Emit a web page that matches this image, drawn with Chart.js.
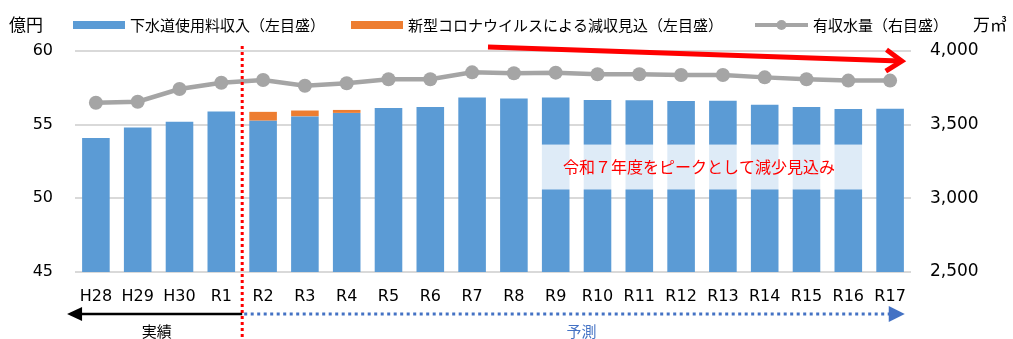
<!DOCTYPE html>
<html lang="ja">
<head>
<meta charset="utf-8">
<title>下水道使用料収入と有収水量の見通し</title>
<script src="https://cdn.jsdelivr.net/npm/chart.js@4/dist/chart.umd.min.js"></script>
<style>
  html, body { margin: 0; padding: 0; background: #fff; }
  #wrap { width: 1013px; height: 339px; position: relative; }
</style>
</head>
<body>
<div id="wrap"><canvas id="chart"></canvas></div>
<script>
// 年度
const years = ['H28', 'H29', 'H30', 'R1', 'R2', 'R3', 'R4', 'R5', 'R6', 'R7',
  'R8', 'R9', 'R10', 'R11', 'R12', 'R13', 'R14', 'R15', 'R16', 'R17'];

// 下水道使用料収入（億円）
const revenue = [54.1, 54.8, 55.2, 55.9, 55.27, 55.56, 55.8, 56.13, 56.2, 56.85,
  56.78, 56.85, 56.67, 56.65, 56.6, 56.62, 56.35, 56.2, 56.06, 56.08];

// 新型コロナウイルスによる減収見込（億円）
const covidLoss = [null, null, null, null, 0.6, 0.4, 0.2, null, null, null,
  null, null, null, null, null, null, null, null, null, null];

// 有収水量（万㎥）
const waterVolume = [3649, 3656, 3742, 3785, 3803, 3764, 3781, 3808, 3808, 3855,
  3849, 3853, 3842, 3842, 3837, 3837, 3821, 3808, 3799, 3799];

const leftTicks = [45, 50, 55, 60];
const rightTicks = [2500, 3000, 3500, 4000];

const JP = '"Noto Sans CJK JP", sans-serif';
const LATIN = '"DejaVu Sans", "Noto Sans CJK JP", sans-serif';

Chart.defaults.font.family = LATIN;
Chart.defaults.color = '#000';

const arrowHead = (ctx, x, y, ang, len, half) => {
  ctx.beginPath();
  ctx.moveTo(x, y);
  ctx.lineTo(x - len * Math.cos(ang) + half * Math.sin(ang), y - len * Math.sin(ang) - half * Math.cos(ang));
  ctx.lineTo(x - len * Math.cos(ang) - half * Math.sin(ang), y - len * Math.sin(ang) + half * Math.cos(ang));
  ctx.closePath();
  ctx.fill();
};

const extras = {
  id: 'extras',
  afterDatasetsDraw(chart) {
    const { ctx, chartArea, scales: { x, y } } = chart;
    const barW = chart.getDatasetMeta(1).data[0].width;

    // 注記の帯
    const bx0 = x.getPixelForValue(11) - barW / 2 - 1;
    const bx1 = x.getPixelForValue(18) + barW / 2 + 1;
    const by0 = y.getPixelForValue(53.65);
    const by1 = y.getPixelForValue(50.6);
    ctx.save();
    ctx.fillStyle = 'rgba(255,255,255,0.8)';
    ctx.fillRect(bx0, by0, bx1 - bx0, by1 - by0);
    ctx.fillStyle = '#ff0000';
    ctx.font = '16px ' + JP;
    ctx.textAlign = 'center';
    ctx.textBaseline = 'middle';
    ctx.fillText('令和７年度をピークとして減少見込み', (bx0 + bx1) / 2 - 3, (by0 + by1) / 2);

    // 減少傾向の矢印
    const ax0 = x.getPixelForValue(9.38), ay0 = y.getPixelForValue(60.27);
    const ax1 = x.getPixelForValue(19.28), ay1 = y.getPixelForValue(59.32);
    const ang = Math.atan2(ay1 - ay0, ax1 - ax0);
    ctx.strokeStyle = '#ff0000';
    ctx.lineWidth = 5;
    ctx.lineJoin = 'miter';
    ctx.beginPath();
    ctx.moveTo(ax0, ay0);
    ctx.lineTo(ax1 - 2, ay1);
    ctx.stroke();
    ctx.beginPath();
    ctx.moveTo(ax1 - 19 * Math.cos(ang - 0.6), ay1 - 19 * Math.sin(ang - 0.6));
    ctx.lineTo(ax1, ay1);
    ctx.lineTo(ax1 - 19 * Math.cos(ang + 0.6), ay1 - 19 * Math.sin(ang + 0.6));
    ctx.stroke();

    // 実績／予測の境界
    const sx = x.getPixelForValue(3.5);
    ctx.lineWidth = 3;
    ctx.lineCap = 'butt';
    ctx.setLineDash([3, 3]);
    ctx.beginPath();
    ctx.moveTo(sx, chartArea.top - 5);
    ctx.lineTo(sx, chart.height);
    ctx.stroke();

    // 実績・予測の矢印
    const ly = chartArea.bottom + 42;
    const leftTip = x.getPixelForValue(-0.69);
    const rightTip = x.getPixelForValue(19.35);
    ctx.setLineDash([]);
    ctx.strokeStyle = '#000';
    ctx.fillStyle = '#000';
    ctx.lineWidth = 2.5;
    ctx.beginPath();
    ctx.moveTo(sx, ly);
    ctx.lineTo(leftTip + 10, ly);
    ctx.stroke();
    arrowHead(ctx, leftTip, ly, Math.PI, 15, 7);

    ctx.strokeStyle = '#4472c4';
    ctx.fillStyle = '#4472c4';
    ctx.lineWidth = 3;
    ctx.setLineDash([3, 3.5]);
    ctx.beginPath();
    ctx.moveTo(sx + 2, ly);
    ctx.lineTo(rightTip - 15, ly);
    ctx.stroke();
    ctx.setLineDash([]);
    arrowHead(ctx, rightTip, ly, 0, 16, 8);

    ctx.font = '15px ' + JP;
    ctx.textAlign = 'center';
    ctx.textBaseline = 'middle';
    ctx.fillStyle = '#000';
    ctx.fillText('実績', (leftTip + sx) / 2 + 2, ly + 17);
    ctx.fillStyle = '#4472c4';
    ctx.fillText('予測', (sx + rightTip) / 2 + 8, ly + 17);
    ctx.restore();
  },
  afterDraw(chart) {
    const { ctx } = chart;
    const ds = chart.data.datasets;
    ctx.save();
    ctx.textBaseline = 'middle';
    ctx.textAlign = 'left';

    // 単位
    ctx.fillStyle = '#000';
    ctx.font = '17px ' + JP;
    ctx.fillText('億円', 9, 25);
    ctx.fillText('万㎥', 973, 25);

    // 凡例
    ctx.font = '15px ' + JP;
    const ly = 25;
    ctx.fillStyle = ds[1].backgroundColor;
    ctx.fillRect(73, ly - 4, 52, 8);
    ctx.fillStyle = '#000';
    ctx.fillText(ds[1].label, 130, ly);

    ctx.fillStyle = ds[2].backgroundColor;
    ctx.fillRect(351, ly - 4, 52, 8);
    ctx.fillStyle = '#000';
    ctx.fillText(ds[2].label, 408, ly);

    ctx.strokeStyle = ds[0].borderColor;
    ctx.lineWidth = 4;
    ctx.beginPath();
    ctx.moveTo(755, ly);
    ctx.lineTo(808, ly);
    ctx.stroke();
    ctx.fillStyle = ds[0].borderColor;
    ctx.beginPath();
    ctx.arc(781.5, ly, 5, 0, Math.PI * 2);
    ctx.fill();
    ctx.fillStyle = '#000';
    ctx.fillText(ds[0].label, 813, ly);
    ctx.restore();
  }
};

new Chart(document.getElementById('chart'), {
  type: 'bar',
  data: {
    labels: years,
    datasets: [
      {
        type: 'line',
        label: '有収水量（右目盛）',
        data: waterVolume,
        yAxisID: 'y1',
        borderColor: '#a5a5a5',
        backgroundColor: '#a5a5a5',
        borderWidth: 4.5,
        pointRadius: 7,
        pointBackgroundColor: '#a5a5a5',
        pointBorderWidth: 0,
        tension: 0,
        order: 0
      },
      {
        label: '下水道使用料収入（左目盛）',
        data: revenue,
        backgroundColor: '#5b9bd5',
        yAxisID: 'y',
        stack: 'income',
        order: 1
      },
      {
        label: '新型コロナウイルスによる減収見込（左目盛）',
        data: covidLoss,
        backgroundColor: '#ed7d31',
        yAxisID: 'y',
        stack: 'income',
        order: 1
      }
    ]
  },
  options: {
    responsive: true,
    maintainAspectRatio: false,
    animation: false,
    layout: { padding: { top: 51, left: 0, right: 0, bottom: 0 } },
    datasets: {
      bar: { categoryPercentage: 1, barPercentage: 0.66 }
    },
    plugins: {
      legend: { display: false },
      tooltip: { enabled: false }
    },
    scales: {
      x: {
        stacked: true,
        grid: { display: false, drawTicks: false },
        border: { display: false },
        ticks: { font: { size: 16 }, padding: 15, maxRotation: 0, autoSkip: false },
        afterFit: (s) => { s.height = 67; }
      },
      y: {
        stacked: true,
        position: 'left',
        min: leftTicks[0],
        max: leftTicks[leftTicks.length - 1],
        ticks: { stepSize: leftTicks[1] - leftTicks[0], font: { size: 16 }, padding: 22 },
        grid: { color: '#d9d9d9', lineWidth: 2, drawTicks: false },
        border: { display: false },
        afterFit: (s) => { s.width = 75; }
      },
      y1: {
        position: 'right',
        min: rightTicks[0],
        max: rightTicks[rightTicks.length - 1],
        ticks: {
          stepSize: rightTicks[1] - rightTicks[0],
          font: { size: 17 },
          padding: 19,
          callback: (v) => v.toLocaleString('en-US')
        },
        grid: { display: false, drawTicks: false },
        border: { display: false },
        afterFit: (s) => { s.width = 102; }
      }
    }
  },
  plugins: [extras]
});
</script>
</body>
</html>
